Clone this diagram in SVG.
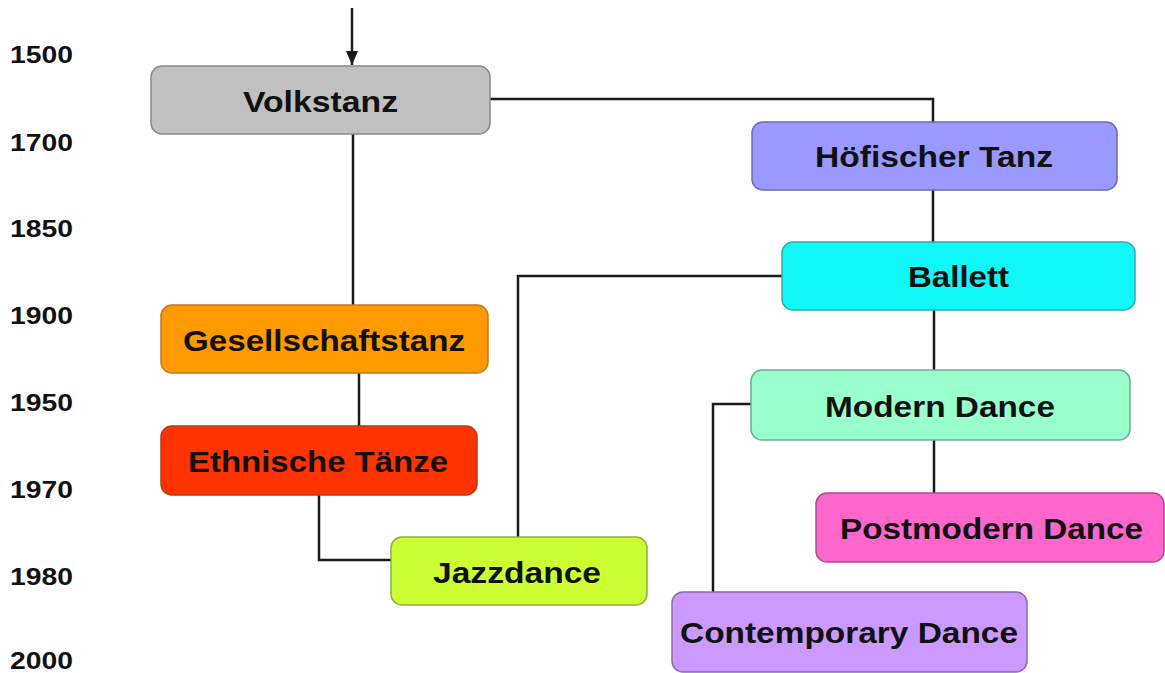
<svg xmlns="http://www.w3.org/2000/svg" width="1165" height="673" viewBox="0 0 1165 673">
<style>
.box{stroke-width:1.5}
.lbl{font-family:"Liberation Sans",Arial,sans-serif;font-weight:bold;font-size:30px;fill:#111;text-anchor:middle}
.yr{font-family:"Liberation Sans",Arial,sans-serif;font-weight:bold;font-size:24px;fill:#111}
.con{fill:none;stroke:#1a1a1a;stroke-width:2.5}
</style>
<defs>
<marker id="ah2" viewBox="0 0 14 12" refX="14" refY="6" markerWidth="14" markerHeight="12" orient="auto" markerUnits="userSpaceOnUse">
<path d="M0,0 L14,6 L0,12 z" fill="#1a1a1a"/>
</marker>
</defs>
<rect width="1165" height="673" fill="#fff"/>
<g id="years">
<text class="yr" x="10" y="63" textLength="63" lengthAdjust="spacingAndGlyphs">1500</text>
<text class="yr" x="10" y="151" textLength="63" lengthAdjust="spacingAndGlyphs">1700</text>
<text class="yr" x="10" y="237" textLength="63" lengthAdjust="spacingAndGlyphs">1850</text>
<text class="yr" x="10" y="324" textLength="63" lengthAdjust="spacingAndGlyphs">1900</text>
<text class="yr" x="10" y="411" textLength="63" lengthAdjust="spacingAndGlyphs">1950</text>
<text class="yr" x="10" y="498" textLength="63" lengthAdjust="spacingAndGlyphs">1970</text>
<text class="yr" x="10" y="585" textLength="63" lengthAdjust="spacingAndGlyphs">1980</text>
<text class="yr" x="10" y="669" textLength="63" lengthAdjust="spacingAndGlyphs">2000</text>
</g>
<g id="connectors">
<path class="con" d="M352,8 V65" marker-end="url(#ah2)"/>
<path class="con" d="M353,134 V305"/>
<path class="con" d="M359,373 V426"/>
<path class="con" d="M319,495 V560 H391"/>
<path class="con" d="M490,99 H933 V122"/>
<path class="con" d="M933,190 V242"/>
<path class="con" d="M782,276 H518 V537"/>
<path class="con" d="M934,310 V370"/>
<path class="con" d="M934,440 V493"/>
<path class="con" d="M751,404 H713 V592"/>
</g>
<g id="volkstanz">
<rect class="box" x="151" y="66" width="339" height="68" rx="11" fill="#c0c0c0" stroke="#8a8a8a"/>
<text class="lbl" x="320.5" y="112" textLength="155" lengthAdjust="spacingAndGlyphs">Volkstanz</text>
</g>
<g id="hoefischer">
<rect class="box" x="752" y="122" width="365" height="68" rx="11" fill="#9999ff" stroke="#6a6ab0"/>
<text class="lbl" x="934" y="167" textLength="238" lengthAdjust="spacingAndGlyphs">Höfischer Tanz</text>
</g>
<g id="ballett">
<rect class="box" x="782" y="242" width="353" height="68" rx="11" fill="#11f6f6" stroke="#2ab0b0"/>
<text class="lbl" x="958.5" y="287" textLength="101" lengthAdjust="spacingAndGlyphs">Ballett</text>
</g>
<g id="gesellschaftstanz">
<rect class="box" x="161" y="305" width="327" height="68" rx="11" fill="#ff9900" stroke="#c07a20"/>
<text class="lbl" x="324" y="351" textLength="282" lengthAdjust="spacingAndGlyphs">Gesellschaftstanz</text>
</g>
<g id="ethnische">
<rect class="box" x="161" y="426" width="316" height="69" rx="11" fill="#ff3300" stroke="#b83a1a"/>
<text class="lbl" x="318" y="472" textLength="260" lengthAdjust="spacingAndGlyphs">Ethnische Tänze</text>
</g>
<g id="jazzdance">
<rect class="box" x="391" y="537" width="256" height="68" rx="11" fill="#ccff33" stroke="#8ab040"/>
<text class="lbl" x="517" y="583" textLength="168" lengthAdjust="spacingAndGlyphs">Jazzdance</text>
</g>
<g id="modern">
<rect class="box" x="751" y="370" width="379" height="70" rx="11" fill="#99ffcc" stroke="#6ab090"/>
<text class="lbl" x="940" y="417" textLength="230" lengthAdjust="spacingAndGlyphs">Modern Dance</text>
</g>
<g id="postmodern">
<rect class="box" x="816" y="493" width="348" height="69" rx="11" fill="#ff66cc" stroke="#b04a90"/>
<text class="lbl" x="991.5" y="539" textLength="303" lengthAdjust="spacingAndGlyphs">Postmodern Dance</text>
</g>
<g id="contemporary">
<rect class="box" x="672" y="592" width="355" height="80" rx="11" fill="#cc99ff" stroke="#8a6ab0"/>
<text class="lbl" x="849" y="643" textLength="338" lengthAdjust="spacingAndGlyphs">Contemporary Dance</text>
</g>
</svg>
